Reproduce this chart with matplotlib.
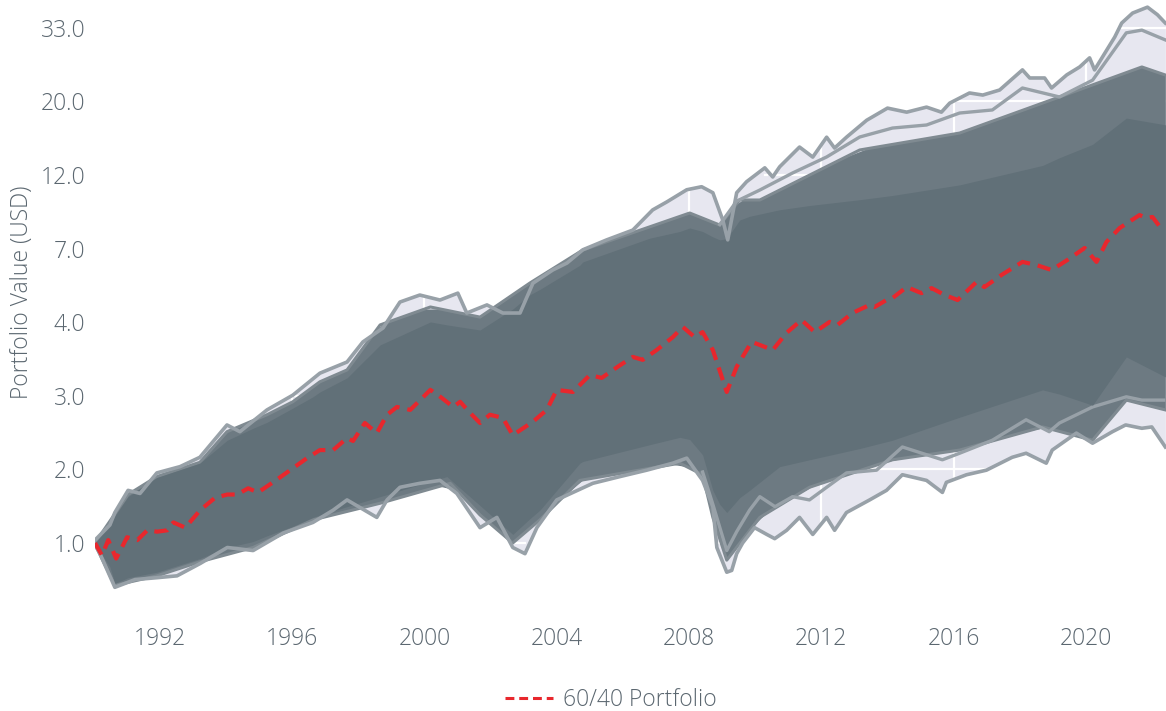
import numpy as np
import matplotlib
matplotlib.use("Agg")
from matplotlib import pyplot as plt
from matplotlib.lines import Line2D

plt.rcParams['font.family'] = ['Open Sans', 'DejaVu Sans']

# 60/40 portfolio (red dashed)
port_year = [1990.04, 1990.25, 1990.44, 1990.68, 1991.01, 1991.32, 1991.62, 1991.92, 1992.22, 1992.41,
             1992.77, 1993.22, 1993.67, 1994.04, 1994.34, 1994.67, 1994.97, 1995.42, 1995.94, 1996.45,
             1996.84, 1997.24, 1997.66, 1997.84, 1998.20, 1998.56, 1998.87, 1999.17, 1999.57, 2000.18,
             2000.48, 2000.87, 2001.08, 2001.38, 2001.68, 2001.98, 2002.37, 2002.67, 2003.28, 2003.70,
             2004.00, 2004.49, 2005.00, 2005.36, 2005.84, 2006.30, 2006.60, 2007.02, 2007.51, 2007.81,
             2008.17, 2008.41, 2008.72, 2009.14, 2009.44, 2009.89, 2010.14, 2010.53, 2010.95, 2011.40,
             2011.80, 2012.25, 2012.49, 2012.94, 2013.46, 2013.61, 2013.97, 2014.15, 2014.58, 2015.03,
             2015.33, 2015.72, 2016.12, 2016.69, 2016.93, 2017.45, 2018.08, 2018.50, 2018.96, 2019.44,
             2019.96, 2020.32, 2020.62, 2021.02, 2021.62, 2021.83, 2022.01, 2022.31]
port_val = [1.00, 0.92, 1.02, 0.90, 1.04, 1.02, 1.09, 1.08, 1.09, 1.15,
            1.11, 1.25, 1.36, 1.39, 1.39, 1.45, 1.41, 1.51, 1.64, 1.78,
            1.88, 1.88, 2.04, 2.00, 2.26, 2.11, 2.39, 2.52, 2.47, 2.83,
            2.70, 2.52, 2.61, 2.42, 2.26, 2.39, 2.34, 2.08, 2.28, 2.47,
            2.83, 2.79, 3.13, 3.07, 3.31, 3.54, 3.47, 3.71, 4.05, 4.34,
            4.05, 4.19, 3.71, 2.79, 3.31, 3.92, 3.84, 3.71, 4.17, 4.55,
            4.19, 4.49, 4.40, 4.77, 5.04, 4.97, 5.21, 5.28, 5.69, 5.46,
            5.65, 5.40, 5.21, 5.89, 5.69, 6.18, 6.75, 6.61, 6.39, 6.84,
            7.42, 6.75, 7.73, 8.50, 9.28, 9.10, 9.16, 8.38]

# highest simulated path
top_year = [1990.04, 1990.49, 1990.64, 1991.04, 1991.40, 1991.91, 1992.61, 1993.21, 1994.03, 1994.42,
            1995.24, 1996.02, 1996.84, 1997.66, 1998.14, 1998.75, 1999.26, 1999.86, 2000.47, 2001.01,
            2001.28, 2001.89, 2002.37, 2002.89, 2003.28, 2003.88, 2004.31, 2004.79, 2005.51, 2006.30,
            2006.90, 2007.33, 2007.93, 2008.38, 2008.72, 2009.02, 2009.17, 2009.44, 2009.74, 2010.29,
            2010.53, 2010.74, 2011.34, 2011.74, 2012.16, 2012.40, 2012.76, 2013.37, 2014.00, 2014.58,
            2015.18, 2015.63, 2015.88, 2016.48, 2016.88, 2017.39, 2018.08, 2018.30, 2018.75, 2018.96,
            2019.42, 2019.81, 2020.11, 2020.26, 2020.87, 2021.08, 2021.41, 2021.86, 2022.16, 2022.40]
top_val = [1.02, 1.13, 1.23, 1.43, 1.40, 1.61, 1.68, 1.79, 2.23, 2.13,
           2.47, 2.73, 3.17, 3.42, 3.92, 4.31, 5.14, 5.39, 5.21, 5.46,
           4.77, 5.04, 4.77, 4.77, 5.84, 6.39, 6.70, 7.33, 7.84, 8.38,
           9.61, 10.15, 11.02, 11.25, 10.80, 8.97, 7.84, 10.80, 11.64, 12.79,
           12.02, 12.88, 14.73, 13.76, 15.75, 14.63, 15.75, 17.67, 19.19, 18.67,
           19.32, 18.67, 19.85, 21.27, 20.97, 21.70, 24.88, 23.55, 23.55, 22.00,
           24.05, 25.38, 27.00, 24.88, 31.10, 34.20, 36.60, 38.10, 36.20, 34.20]

# second-highest visible path (after 2009)
top2_year = [2008.93, 2009.44, 2010.14, 2011.13, 2012.16, 2013.16, 2014.15, 2015.18, 2016.18, 2017.17,
             2018.08, 2019.20, 2020.20, 2021.22, 2021.69, 2022.40]
top2_val = [8.7, 10.2, 11.0, 12.35, 13.77, 15.77, 16.76, 17.11, 18.56, 18.95,
            22.0, 20.7, 23.2, 32.0, 32.6, 30.5]

# lowest simulated path
low_year = [1990.04, 1990.19, 1990.64, 1991.25, 1991.91, 1992.52, 1993.22, 1994.04, 1994.82, 1995.73,
            1996.63, 1997.24, 1997.66, 1998.56, 1998.87, 1999.26, 1999.86, 2000.47, 2000.98, 2001.68,
            2002.19, 2002.67, 2003.04, 2003.40, 2004.00, 2005.09, 2005.91, 2006.72, 2007.51, 2007.93,
            2008.41, 2008.72, 2008.84, 2009.14, 2009.29, 2009.44, 2009.62, 2009.98, 2010.35, 2010.59,
            2010.95, 2011.34, 2011.74, 2012.16, 2012.40, 2012.76, 2013.46, 2013.97, 2014.45, 2015.18,
            2015.66, 2015.78, 2016.39, 2016.99, 2017.77, 2018.19, 2018.80, 2018.98, 2019.71, 2020.20,
            2020.80, 2021.20, 2021.69, 2021.99, 2022.40]
low_val = [0.99, 0.93, 0.74, 0.78, 0.79, 0.80, 0.87, 0.97, 0.95, 1.07,
           1.15, 1.25, 1.34, 1.19, 1.34, 1.46, 1.50, 1.53, 1.40, 1.11,
           1.19, 0.97, 0.93, 1.11, 1.34, 1.50, 1.57, 1.64, 1.72, 1.78,
           1.53, 1.28, 0.97, 0.82, 0.83, 0.93, 1.00, 1.11, 1.06, 1.03,
           1.09, 1.19, 1.06, 1.19, 1.09, 1.23, 1.34, 1.43, 1.59, 1.53,
           1.41, 1.51, 1.59, 1.64, 1.79, 1.84, 1.72, 1.88, 2.11, 1.97,
           2.13, 2.23, 2.18, 2.20, 1.92]

# second-lowest visible path (after 2008)
low2_year = [2008.41, 2008.72, 2009.14, 2009.44, 2009.83, 2010.14, 2010.60, 2011.13, 2011.64, 2012.16,
             2012.76, 2013.67, 2014.45, 2015.66, 2016.18, 2017.17, 2018.19, 2018.89, 2019.20, 2020.20,
             2021.22, 2021.69, 2022.35]
low2_val = [1.62, 1.30, 0.95, 1.08, 1.25, 1.37, 1.28, 1.37, 1.34, 1.46,
            1.61, 1.64, 1.92, 1.76, 1.84, 2.01, 2.31, 2.13, 2.26, 2.52,
            2.70, 2.64, 2.64]

# edge of the thick bundle of paths
fringe_hi_year = [1990.04, 1991.04, 1991.91, 1993.21, 1994.03, 1995.24, 1996.02, 1996.84, 1997.66, 1998.66,
                  2000.18, 2001.68, 2003.19, 2004.79, 2008.02, 2008.93, 2009.53, 2010.14, 2013.16, 2016.18,
                  2019.20, 2021.69, 2022.40]
fringe_hi = [1.00, 1.39, 1.57, 1.73, 2.13, 2.39, 2.61, 2.99, 3.24, 4.40,
             4.97, 4.64, 5.85, 7.32, 9.41, 8.67, 10.28, 10.28, 14.44, 16.20,
             20.70, 25.38, 24.03]
fringe_lo_year = [1990.04, 1990.64, 1991.91, 1993.21, 1994.82, 1996.63, 1998.66, 2000.78, 2001.68, 2002.67,
                  2003.49, 2004.70, 2007.72, 2008.41, 2008.72, 2009.14, 2010.14, 2011.64, 2014.15, 2016.18,
                  2018.69, 2020.20, 2021.22, 2022.40]
fringe_lo = [0.99, 0.75, 0.80, 0.88, 0.97, 1.17, 1.31, 1.50, 1.21, 1.00,
             1.17, 1.53, 1.72, 1.59, 1.19, 0.89, 1.19, 1.46, 1.76, 1.88,
             2.20, 2.01, 2.64, 2.47]

# solid body of the simulated paths
core_year = [1990.04, 1990.49, 1990.64, 1991.04, 1991.91, 1993.21, 1994.04, 1994.82, 1995.24, 1996.02,
             1996.63, 1996.84, 1997.66, 1998.66, 2000.18, 2000.68, 2001.68, 2002.67, 2003.19, 2003.49,
             2004.70, 2004.79, 2006.81, 2007.72, 2008.02, 2008.41, 2008.72, 2008.93, 2009.14, 2009.53,
             2009.83, 2010.74, 2011.64, 2013.16, 2014.15, 2016.18, 2018.69, 2019.20, 2020.20, 2021.22,
             2022.40]
core_hi = [1.00, 1.13, 1.20, 1.37, 1.56, 1.72, 2.01, 2.18, 2.27, 2.50,
           2.70, 2.79, 3.07, 3.84, 4.49, 4.40, 4.25, 4.90, 5.40, 5.60,
           6.60, 6.75, 7.93, 8.30, 8.50, 8.30, 8.00, 7.84, 7.90, 8.97,
           9.20, 9.62, 9.90, 10.30, 10.60, 11.39, 13.00, 13.70, 15.00, 17.93,
           17.13]
core_lo = [0.99, 0.85, 0.76, 0.79, 0.82, 0.90, 0.97, 1.01, 1.05, 1.12,
           1.19, 1.21, 1.28, 1.37, 1.52, 1.57, 1.29, 1.06, 1.18, 1.25,
           1.72, 1.74, 1.95, 2.05, 2.02, 1.82, 1.43, 1.30, 1.23, 1.36,
           1.43, 1.68, 1.76, 1.90, 2.01, 2.35, 2.83, 2.75, 2.55, 3.54,
           3.09]

y_ticks = np.exp(np.arange(0, 4, 0.5))
y_labels = ['{:.1f}'.format(round(v)) for v in y_ticks]
x_ticks = [1992, 1996, 2000, 2004, 2008, 2012, 2016, 2020]

text_col = '#5b6770'
core_col = '#617078'
fringe_col = '#6d7a82'
edge_col = '#98a1a8'
red = '#e8272d'


def logline(yrs, vals, at):
    return np.exp(np.interp(at, yrs, np.log(vals)))


fig = plt.figure(figsize=(11.66, 7.11), dpi=100)
ax = fig.add_axes([95 / 1166, 1 - 612 / 711, 1 - 95 / 1166, 612 / 711])
ax.set_yscale('log')

# lavender envelope between extreme paths
grid_y = np.array(sorted(set(top_year) | set(low_year) | set(x_ticks)))
env_hi = logline(top_year, top_val, grid_y)
env_lo = logline(low_year, low_val, grid_y)
ax.fill_between(grid_y, env_lo, env_hi, color='#e7e7f0', lw=0, zorder=1)

# white grid visible only over the envelope
for t in y_ticks:
    yy = np.full_like(grid_y, t)
    yy = np.where((yy > env_lo) & (yy < env_hi), yy, np.nan)
    ax.plot(grid_y, yy, color='white', lw=1.6, zorder=2)
for t in x_ticks:
    ax.plot([t, t], [logline(low_year, low_val, t), logline(top_year, top_val, t)],
            color='white', lw=1.6, zorder=2)

# bundle of paths
ax.fill_between(grid_y, logline(fringe_lo_year, fringe_lo, grid_y),
                logline(fringe_hi_year, fringe_hi, grid_y), color=fringe_col, lw=0, zorder=3)
ax.plot(fringe_hi_year, fringe_hi, color='#7f8a91', lw=2.2, zorder=3)
ax.plot(fringe_lo_year, fringe_lo, color='#7f8a91', lw=2.2, zorder=3)
for yrs, vals in [(top2_year, top2_val), (low2_year, low2_val)]:
    ax.plot(yrs, vals, color=edge_col, lw=2.4, zorder=3, solid_joinstyle='round')
ax.fill_between(core_year, core_lo, core_hi, color=core_col, lw=0, zorder=3.5)
ax.plot(top_year, top_val, color=edge_col, lw=2.6, zorder=4, solid_joinstyle='round')
ax.plot(low_year, low_val, color=edge_col, lw=2.6, zorder=4, solid_joinstyle='round')

ax.plot(port_year, port_val, color=red, lw=3.0, dashes=(3.2, 1.9), zorder=5)

ax.set_xlim(1990.04, 2022.42)
ax.set_ylim(np.exp((543 - 612) / 147.2), np.exp(543 / 147.2))
ax.set_yticks(y_ticks)
ax.set_yticklabels(y_labels)
ax.minorticks_off()
ax.set_xticks(x_ticks)
ax.set_xticklabels([str(t) for t in x_ticks])
ax.tick_params(axis='both', length=0, labelsize=16.5, labelcolor=text_col)
ax.tick_params(axis='y', pad=7)
ax.tick_params(axis='x', pad=11)
for lab in ax.get_xticklabels() + ax.get_yticklabels():
    lab.set_fontweight('light')
for s in ax.spines.values():
    s.set_visible(False)

fig.text(22 / 1166, 1 - 292 / 711, 'Portfolio Value (USD)', rotation=90,
         ha='center', va='center', fontsize=16.5, color=text_col, fontweight='light')

handle = Line2D([], [], color=red, lw=2.2, dashes=(2.9, 1.6))
leg = fig.legend([handle], ['60/40 Portfolio'], loc='center',
                 bbox_to_anchor=(611 / 1166, 1 - 700 / 711), frameon=False,
                 fontsize=16.5, labelcolor=text_col, handlelength=2.1, handletextpad=0.45)
for t in leg.get_texts():
    t.set_fontweight('light')

fig.savefig('out.png', dpi=100)
